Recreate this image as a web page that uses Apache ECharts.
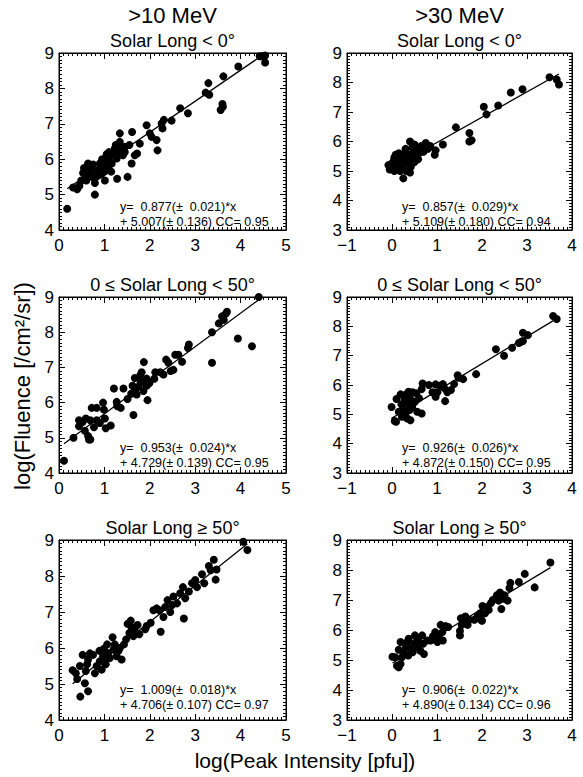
<!DOCTYPE html>
<html><head><meta charset="utf-8">
<script src="https://cdn.jsdelivr.net/npm/echarts@6/dist/echarts.min.js"></script>
<style>html,body{margin:0;padding:0;background:#fff}#c{width:583px;height:777px}</style>
</head><body><div id="c"></div>
<script>
// ---- data ----
// >10 MeV, Solar Long < 0°
const p1X = [0.18,0.31,0.40,0.45,0.49,0.53,0.64,0.68,0.62,0.74,0.79,0.79,0.82,0.86,0.90,0.94,0.97,1.01,1.03,1.05,1.08,1.12,1.16,1.19,1.23,1.27,1.28,1.30,1.34,1.34,1.38,1.41,1.45,1.51,1.55,1.60,1.61,1.67,1.72,1.78,1.93,2.00,2.04,2.15,2.17,2.26,2.28,2.31,2.48,2.67,2.84,3.23,3.29,3.31,3.56,3.60,3.61,3.62,3.95,4.42,4.49,4.54,4.54,0.55,0.72,0.88,0.95,1.10,1.15,1.25,1.35,1.45,0.60,0.75,1.00];
const p1Y = [4.6,5.2,5.15,5.25,5.4,5.61,5.88,5.78,5.59,5.69,5.0,5.33,5.5,5.69,5.88,5.59,5.78,5.4,5.97,6.14,5.78,6.06,5.88,6.16,6.3,6.02,5.45,6.14,6.73,6.49,6.25,6.11,6.35,5.5,6.4,5.88,6.77,6.11,6.16,6.44,6.96,6.73,6.63,6.54,6.25,7.01,6.87,7.11,7.09,7.44,7.3,7.88,8.15,7.82,7.39,7.56,7.48,8.34,8.62,8.91,8.91,8.73,8.93,5.75,5.5,5.55,6.0,6.2,5.65,6.4,6.35,6.2,5.4,5.85,5.65];
// >30 MeV, Solar Long < 0°
const p2X = [-0.08,-0.05,0.0,0.02,0.05,0.05,0.08,0.1,0.12,0.15,0.15,0.18,0.2,0.22,0.25,0.25,0.28,0.3,0.3,0.32,0.35,0.38,0.4,0.4,0.42,0.45,0.45,0.48,0.5,0.5,0.52,0.55,0.58,0.6,0.65,0.7,0.72,0.75,0.8,0.85,0.95,0.97,1.13,1.42,1.72,1.72,1.77,2.04,2.1,2.36,2.64,2.9,3.5,3.66,3.71];
const p2Y = [5.2,5.05,5.1,5.3,5.45,5.0,5.55,5.25,5.4,5.6,5.15,5.0,5.35,5.5,4.75,5.2,5.6,5.4,5.75,5.0,5.3,5.55,6.0,4.95,5.15,5.45,5.8,5.65,5.9,5.3,5.5,5.75,5.4,5.6,5.85,5.65,5.8,5.95,5.75,5.85,5.55,5.7,5.9,6.48,6.0,6.29,6.04,7.18,6.92,7.22,7.66,7.77,8.18,8.1,7.93];
// >10 MeV, 0 ≤ Solar Long < 50°
const p3X = [0.11,0.32,0.44,0.44,0.52,0.57,0.59,0.64,0.66,0.69,0.69,0.72,0.77,0.83,0.83,0.9,0.97,0.99,1.01,1.03,1.14,1.21,1.27,1.28,1.36,1.42,1.51,1.59,1.62,1.64,1.67,1.67,1.71,1.75,1.79,1.8,1.82,1.86,1.87,1.9,1.93,1.95,1.93,1.99,2.1,2.12,2.23,2.3,2.36,2.41,2.46,2.52,2.56,2.63,2.71,2.84,2.86,3.37,3.37,3.52,3.59,3.63,3.7,3.67,3.94,4.25,4.4];
const p3Y = [4.35,5.0,5.5,5.33,5.45,5.2,5.55,5.05,4.95,4.95,5.5,5.85,5.3,5.85,5.5,5.42,6.0,5.8,5.55,5.27,5.35,6.4,6.02,5.9,5.85,6.4,6.1,6.25,6.48,5.65,6.35,6.7,6.23,6.45,6.77,6.58,6.86,6.33,7.15,6.55,6.48,6.07,6.68,6.55,6.68,6.86,6.86,6.8,7.22,7.13,6.9,6.93,7.36,7.36,7.16,7.55,7.65,7.13,8.0,8.25,8.45,8.35,8.58,8.52,7.82,7.6,9.0];
// >30 MeV, 0 ≤ Solar Long < 50°
const p4X = [-0.01,0.06,0.09,0.1,0.15,0.19,0.21,0.22,0.25,0.28,0.3,0.31,0.34,0.36,0.37,0.39,0.41,0.41,0.45,0.46,0.51,0.54,0.56,0.6,0.66,0.66,0.68,0.82,0.97,0.9,0.97,1.01,1.08,1.13,1.16,1.18,1.23,1.31,1.38,1.46,1.48,1.58,1.87,2.31,2.49,2.67,2.82,2.87,2.91,2.91,3.02,3.58,3.66];
const p4Y = [5.25,4.77,4.75,5.52,5.09,5.68,5.34,4.92,5.2,5.49,5.03,5.68,4.86,5.38,5.77,5.15,5.52,4.8,5.26,5.75,5.43,5.72,5.09,5.55,5.03,5.86,6.05,6.0,6.02,5.75,5.6,5.75,5.98,6.03,5.9,5.45,5.75,5.83,6.03,6.33,6.25,6.2,6.37,7.22,7.0,7.27,7.43,7.47,7.78,7.5,7.7,8.35,8.25];
// >10 MeV, Solar Long ≥ 50°
const p5X = [0.3,0.37,0.4,0.46,0.47,0.52,0.57,0.59,0.62,0.64,0.64,0.68,0.75,0.79,0.83,0.89,0.9,0.94,0.97,0.99,1.01,1.03,1.06,1.08,1.12,1.18,1.2,1.23,1.27,1.31,1.34,1.38,1.43,1.48,1.51,1.55,1.58,1.6,1.64,1.67,1.73,1.77,1.9,1.93,2.02,2.08,2.15,2.21,2.24,2.3,2.34,2.39,2.45,2.49,2.52,2.6,2.67,2.73,2.75,2.78,2.86,2.93,3.0,3.04,3.15,3.2,3.3,3.34,3.41,3.45,3.47,4.06,4.15];
const p5Y = [5.38,5.3,5.14,5.5,4.65,5.81,5.02,5.36,5.55,5.68,4.8,5.85,5.81,5.3,5.5,5.92,5.63,5.4,5.77,5.98,5.68,5.55,6.1,5.86,5.72,6.3,5.95,6.1,5.77,5.92,6.0,5.68,6.1,6.24,6.67,6.42,6.76,6.57,6.33,6.48,6.64,6.38,6.52,6.61,6.7,7.05,7.1,7.05,6.45,6.86,7.14,7.33,7.0,7.19,7.43,7.24,7.52,7.69,6.82,7.38,7.57,7.8,7.89,7.69,8.05,7.8,8.28,8.16,8.45,7.9,8.18,8.95,8.72];
// >30 MeV, Solar Long ≥ 50°
const p6X = [0.01,0.07,0.11,0.15,0.19,0.15,0.19,0.22,0.26,0.31,0.34,0.36,0.37,0.41,0.46,0.49,0.51,0.54,0.56,0.6,0.63,0.67,0.69,0.71,0.78,0.86,0.91,0.96,1.01,1.04,1.08,1.12,1.13,1.19,1.25,1.51,1.51,1.53,1.55,1.6,1.63,1.68,1.72,1.83,1.9,1.96,1.98,2.0,2.01,2.07,2.13,2.15,2.2,2.24,2.3,2.33,2.37,2.4,2.43,2.46,2.5,2.57,2.61,2.63,2.82,2.95,3.17,3.52];
const p6Y = [5.11,5.09,4.81,4.76,4.87,5.34,5.6,5.09,5.26,5.43,5.6,5.15,5.71,5.37,5.26,5.54,5.82,5.43,5.71,5.6,5.31,5.82,5.54,5.2,5.65,5.65,5.79,5.93,5.6,5.77,6.17,5.93,5.65,6.13,6.1,5.97,5.82,6.39,6.17,6.28,6.45,6.17,6.34,6.34,6.45,6.56,6.34,6.31,6.8,6.56,6.78,6.67,6.9,7.0,7.04,7.16,6.98,7.25,6.7,7.04,7.16,6.98,7.4,7.57,7.6,7.87,7.42,8.25];

// fit lines (slope, intercept) as printed in each panel
const fitSlope     = [0.877, 0.857, 0.953, 0.926, 1.009, 0.906];
const fitSlopeErr  = ['0.021','0.029','0.024','0.026','0.018','0.022'];
const fitIntercept = [5.007, 5.109, 4.729, 4.872, 4.706, 4.890];
const fitInterErr  = ['0.136','0.180','0.139','0.150','0.107','0.134'];
const fitCC        = ['0.95','0.94','0.95','0.95','0.97','0.96'];

const columnTitles = ['>10 MeV', '>30 MeV'];
const rowTitles = ['Solar Long < 0°', '0 \u2264 Solar Long < 50°', 'Solar Long \u2265 50°'];
const xTickRange = [[0, 5], [-1, 4]];   // left column, right column
const yTickRange = [[4, 9], [3, 9]];
const yAxisTitle = 'log(Fluence [/cm\u00B2/sr])';
const xAxisTitle = 'log(Peak Intensity [pfu])';

// ---- layout / style ----
const FONT = "'Liberation Sans', Arial, Helvetica, sans-serif";
const colLeft = [59, 347], colWidth = [227, 225];
const rowTop = [53, 297, 540], rowHeight = [177, 176, 180];
const annotY = [207, 448, 690];
const annotX = [120, 402];

const panelsX = [p1X, p2X, p3X, p4X, p5X, p6X];
const panelsY = [p1Y, p2Y, p3Y, p4Y, p5Y, p6Y];

const fmt = v => v < 0 ? '\u2212' + (-v) : String(v);

const grids = [], xAxes = [], yAxes = [], series = [], graphics = [];
for (let i = 0; i < 6; i++) {
  const col = i % 2, row = Math.floor(i / 2);
  grids.push({left: colLeft[col], top: rowTop[row], width: colWidth[col], height: rowHeight[row],
    show: true, borderColor: '#000', borderWidth: 1, backgroundColor: 'transparent', containLabel: false});
  const mk = (pos, min, max, showLabel, margin) => ({
    type: 'value', gridIndex: i, position: pos, min: min, max: max, interval: 1,
    axisLine: {show: true, onZero: false, lineStyle: {color: '#000', width: 1}},
    axisTick: {show: true, inside: true, length: 6, lineStyle: {color: '#000', width: 1}},
    minorTick: {show: true, splitNumber: 10, length: 3, lineStyle: {color: '#000', width: 1}},
    splitLine: {show: false}, minorSplitLine: {show: false},
    axisLabel: {show: showLabel, margin: margin, color: '#000', fontSize: 17, fontFamily: FONT, formatter: fmt}
  });
  xAxes.push(mk('bottom', xTickRange[col][0], xTickRange[col][1], true, 7));
  xAxes.push(mk('top', xTickRange[col][0], xTickRange[col][1], false, 5));
  yAxes.push(mk('left', yTickRange[col][0], yTickRange[col][1], true, 5));
  yAxes.push(mk('right', yTickRange[col][0], yTickRange[col][1], false, 5));

  const xs = panelsX[i], ys = panelsY[i];
  const pts = xs.map((x, k) => [x, ys[k]]);
  const xmin = Math.min(...xs), xmax = Math.max(...xs);
  series.push({type: 'line', xAxisIndex: 2 * i, yAxisIndex: 2 * i,
    data: [[xmin, fitSlope[i] * xmin + fitIntercept[i]], [xmax, fitSlope[i] * xmax + fitIntercept[i]]],
    symbol: 'none', silent: true, lineStyle: {color: '#000', width: 1.3}, z: 2});
  series.push({type: 'scatter', xAxisIndex: 2 * i, yAxisIndex: 2 * i, data: pts,
    symbol: 'circle', symbolSize: 8, itemStyle: {color: '#000', opacity: 1}, silent: true, z: 3});

  // annotations
  const tstyle = (text, size, align) => ({text: text, fill: '#000', font: size + 'px ' + FONT,
    textAlign: align, align: align, textVerticalAlign: 'middle', verticalAlign: 'middle'});
  graphics.push({type: 'text', x: annotX[col], y: annotY[row],
    style: tstyle('y=  ' + fitSlope[i].toFixed(3) + '(\u00B1  ' + fitSlopeErr[i] + ')*x', 12.5, 'left')});
  graphics.push({type: 'text', x: annotX[col], y: annotY[row] + 15,
    style: tstyle('+ ' + fitIntercept[i].toFixed(3) + '(\u00B1 ' + fitInterErr[i] + ') CC= ' + fitCC[i], 12.5, 'left')});
  // row title
  graphics.push({type: 'text', x: colLeft[col] + colWidth[col] / 2, y: rowTop[row] - 12,
    style: tstyle(rowTitles[row], 18, 'center')});
}
const tcenter = (text, size) => ({text: text, fill: '#000', font: size + 'px ' + FONT,
  textAlign: 'center', align: 'center', textVerticalAlign: 'middle', verticalAlign: 'middle'});
graphics.push({type: 'text', x: colLeft[0] + colWidth[0] / 2, y: 15, style: tcenter(columnTitles[0], 22)});
graphics.push({type: 'text', x: colLeft[1] + colWidth[1] / 2, y: 15, style: tcenter(columnTitles[1], 22)});
graphics.push({type: 'text', x: 22, y: 386, rotation: Math.PI / 2, style: tcenter(yAxisTitle, 22)});
graphics.push({type: 'text', x: 305, y: 760, style: tcenter(xAxisTitle, 21)});

const chart = echarts.init(document.getElementById('c'), null, {renderer: 'svg', width: 583, height: 777});
chart.setOption({
  animation: false,
  backgroundColor: '#fff',
  grid: grids, xAxis: xAxes, yAxis: yAxes, series: series, graphic: graphics
});
</script>
</body></html>
